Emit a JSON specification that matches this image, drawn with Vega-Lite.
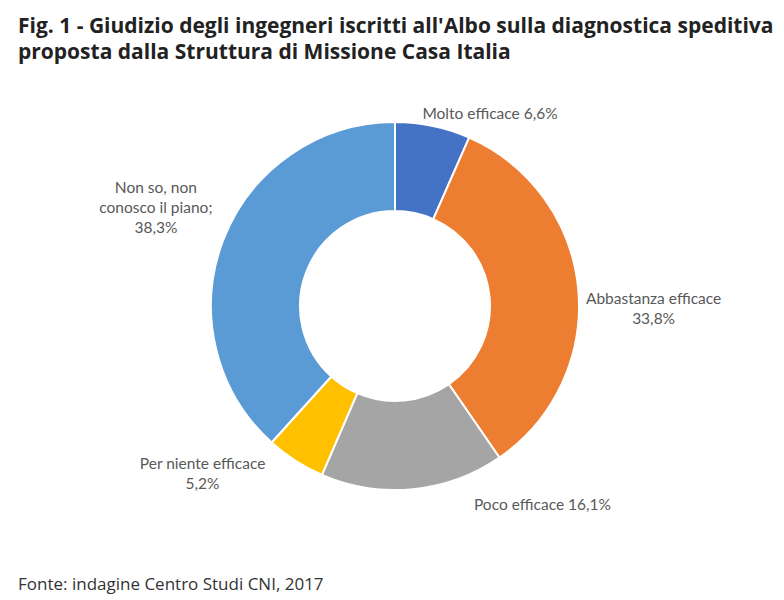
{
  "$schema": "https://vega.github.io/schema/vega-lite/v6.json",
  "background": "white",
  "padding": {"top": 16, "left": 6, "right": 0, "bottom": 8},
  "title": {
    "text": ["Fig. 1 - Giudizio degli ingegneri iscritti all'Albo sulla diagnostica speditiva", "proposta dalla Struttura di Missione Casa Italia"],
    "anchor": "start", "frame": "group", "font": "Open Sans", "fontSize": 21, "fontWeight": "bold",
    "color": "#222222", "lineHeight": 26, "dx": 12, "offset": 13
  },
  "config": {"view": {"stroke": null}, "concat": {"spacing": 0}},
  "vconcat": [
    {
      "width": 778,
      "height": 460,
      "title": {"text": "Fonte: indagine Centro Studi CNI, 2017", "orient": "bottom", "anchor": "start", "frame": "group", "font": "Open Sans", "fontSize": 17, "fontWeight": "normal", "color": "#333333", "dx": 12, "offset": 41},
      "data": {"values": [
        {"cat": "Molto efficace", "value": 6.6, "label": "Molto efficace 6,6%", "order": 1},
        {"cat": "Abbastanza efficace", "value": 33.8, "label": "Abbastanza efficace\n33,8%", "order": 2},
        {"cat": "Poco efficace", "value": 16.1, "label": "Poco efficace 16,1%", "order": 3},
        {"cat": "Per niente efficace", "value": 5.2, "label": "Per niente efficace\n5,2%", "order": 4},
        {"cat": "Non so, non conosco il piano", "value": 38.3, "label": "Non so, non\nconosco il piano;\n38,3%", "order": 5}
      ]},
      "transform": [
        {"stack": "value", "groupby": [], "sort": [{"field": "order", "order": "ascending"}], "as": ["v0", "v1"]}
      ],
      "encoding": {
        "theta": {"field": "v0", "type": "quantitative", "scale": {"domain": [0, 100]}}
      },
      "layer": [
        {
          "mark": {"type": "arc", "outerRadius": 184, "innerRadius": 95, "stroke": "white", "strokeWidth": 2},
          "encoding": {
            "theta2": {"field": "v1"},
            "color": {"field": "cat", "type": "nominal", "legend": null,
              "scale": {"domain": ["Molto efficace", "Abbastanza efficace", "Poco efficace", "Per niente efficace", "Non so, non conosco il piano"],
                        "range": ["#4472C4", "#ED7D31", "#A5A5A5", "#FFC000", "#5B9BD5"]}}
          }
        },
        {
          "transform": [{"filter": "datum.cat === 'Molto efficace'"}],
          "mark": {"type": "text", "radius": 192, "dx": 95, "dy": 0, "font": "Lato", "fontSize": 15.5, "color": "#595959", "lineBreak": "\n", "lineHeight": 20},
          "encoding": {"text": {"field": "label", "type": "nominal"}}
        },
        {
          "transform": [{"filter": "datum.cat === 'Abbastanza efficace'"}],
          "mark": {"type": "text", "radius": 200, "dx": 178, "dy": 176, "font": "Lato", "fontSize": 15.5, "color": "#595959", "lineBreak": "\n", "lineHeight": 20},
          "encoding": {"text": {"field": "label", "type": "nominal"}}
        },
        {
          "transform": [{"filter": "datum.cat === 'Poco efficace'"}],
          "mark": {"type": "text", "radius": 200, "dx": 34, "dy": 34, "font": "Lato", "fontSize": 15.5, "color": "#595959", "lineBreak": "\n", "lineHeight": 20},
          "encoding": {"text": {"field": "label", "type": "nominal"}}
        },
        {
          "transform": [{"filter": "datum.cat === 'Per niente efficace'"}],
          "mark": {"type": "text", "radius": 200, "dx": -113, "dy": -26, "font": "Lato", "fontSize": 15.5, "color": "#595959", "lineBreak": "\n", "lineHeight": 20},
          "encoding": {"text": {"field": "label", "type": "nominal"}}
        },
        {
          "transform": [{"filter": "datum.cat === 'Non so, non conosco il piano'"}],
          "mark": {"type": "text", "radius": 200, "dx": -105, "dy": -266, "font": "Lato", "fontSize": 15.5, "color": "#595959", "lineBreak": "\n", "lineHeight": 20},
          "encoding": {"text": {"field": "label", "type": "nominal"}}
        }
      ]
    }
  ]
}
